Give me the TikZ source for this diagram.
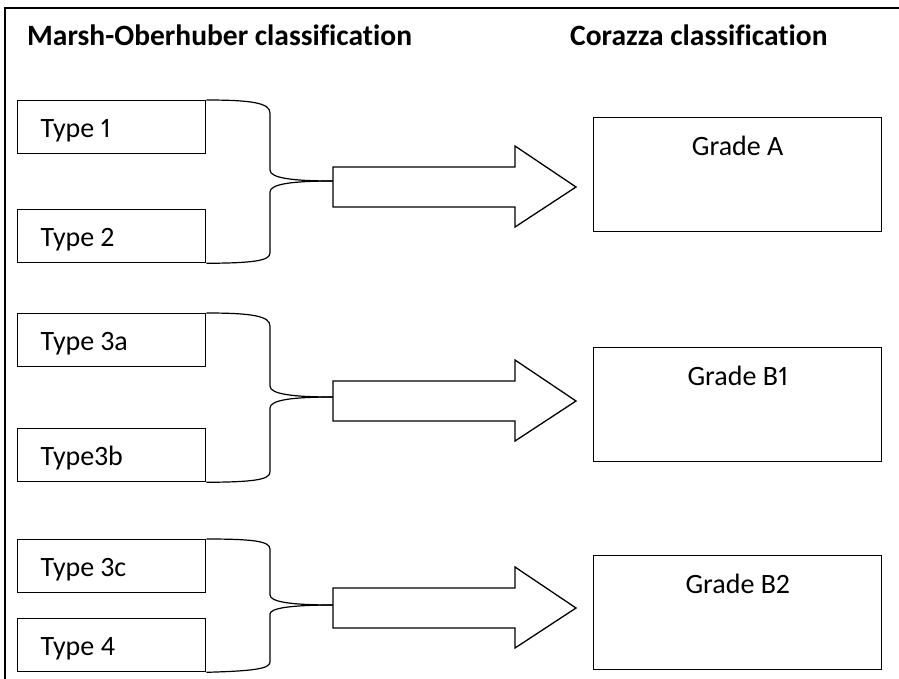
\documentclass[tikz,border=0pt]{standalone}
\usepackage{fontspec}
\setmainfont{Carlito}[Numbers=Proportional, Ligatures=NoCommon]
\usetikzlibrary{positioning}

\begin{document}
\begin{tikzpicture}[x=1pt, y=-1pt,
font=\fontsize{28}{31}\selectfont,
heading/.style={font=\fontsize{29.5}{32}\selectfont\bfseries, anchor=base west, inner sep=0pt},
typebox/.style={draw, line width=1.3pt, anchor=north west, text width=142pt, inner xsep=23pt, inner ysep=4pt, text height=33pt, text depth=12pt,
  execute at begin node={\spaceskip=0pt\xspaceskip=0pt\relax}},
gradebox/.style={draw, line width=1.3pt, anchor=north west, minimum width=288pt, inner ysep=8pt, text height=30pt, text depth=68pt},
brace/.style={draw, line width=1.2pt},
blockarrow/.style={draw, line width=1.3pt, line join=miter, fill=white}
]
\useasboundingbox (0,0) rectangle (899,678);
\draw[line width=1.5pt] (5,8) rectangle (920,700);

\node[heading] (hl) at (27,45) {Marsh-Oberhuber classification};
\node[heading] (hr) at (570,45) {Corazza classification};

% left column
\node[typebox] (t1) at (17,100) {Type 1};
\node[typebox] (t2) at (17,209) {Type 2};
\node[typebox] (t3a) at (17,313) {Type 3a};
\node[typebox] (t3b) at (17,428) {Type3b};
\node[typebox] (t3c) at (17,539) {Type 3c};
\node[typebox] (t4) at (17,618) {Type 4};

% right column
\node[gradebox] (ga) at (593,117) {Grade A};
\node[gradebox] (gb1) at (593,347) {Grade B1};
\node[gradebox] (gb2) at (593,555) {Grade B2};

% brace tips
\coordinate (m1) at (333,181);
\coordinate (m2) at (333,397);
\coordinate (m3) at (333,605);

\draw[brace] (t1.north east) .. controls (252,100) and (270,103) .. (270,113) -- (270,170)
  .. controls (270,178) and (292,181) .. (m1);
\draw[brace] (m1) .. controls (292,181) and (270,184) .. (270,192) -- (270,253)
  .. controls (270,261) and (252,263) .. (t2.south east);

\draw[brace] (t3a.north east) .. controls (252,313) and (270,316) .. (270,326) -- (270,386)
  .. controls (270,394) and (292,397) .. (m2);
\draw[brace] (m2) .. controls (292,397) and (270,400) .. (270,408) -- (270,472)
  .. controls (270,480) and (252,482) .. (t3b.south east);

\draw[brace] (t3c.north east) .. controls (252,539) and (270,541) .. (270,549) -- (270,595)
  .. controls (270,602) and (292,605) .. (m3);
\draw[brace] (m3) .. controls (292,605) and (270,608) .. (270,614) -- (270,662)
  .. controls (270,669) and (252,671) .. (t4.south east);

% block arrows
\coordinate (a1) at (333,187);
\coordinate (a2) at (333,401);
\coordinate (a3) at (333,608);
\foreach \a in {a1,a2,a3}
  \draw[blockarrow] (\a) ++(0,-20) -- ++(182,0) -- ++(0,-21) -- ++(61,41) -- ++(-61,40)
    -- ++(0,-20) -- ++(-182,0) -- cycle;
\end{tikzpicture}
\end{document}
